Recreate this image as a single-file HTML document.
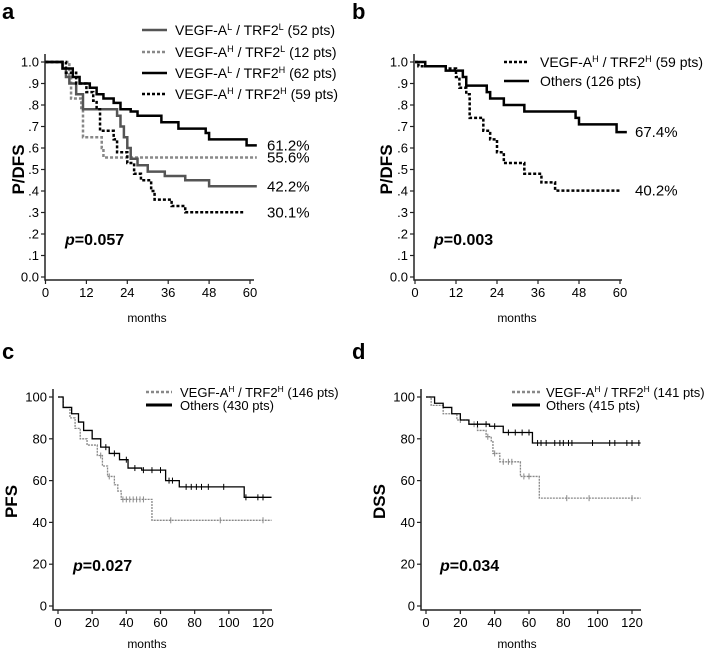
<!DOCTYPE html>
<html><head><meta charset="utf-8">
<style>
body{margin:0;background:#fff;}
svg{display:block;font-family:"Liberation Sans",Arial,sans-serif;}
</style></head>
<body>
<svg id="fig" width="709" height="651" viewBox="0 0 709 651"></svg>
<script>
// ---------- data ----------
const aLLm=[0,5,6,7,9,11,20,21,22,23,24,25,27,30,35,41,48,62];
const aLLs=[1,0.97,0.93,0.9,0.85,0.78,0.78,0.75,0.7,0.65,0.6,0.55,0.52,0.49,0.47,0.45,0.422,0.422];
const aHLm=[0,7,7.5,10.5,11,16.5,17,62];
const aHLs=[1,0.93,0.83,0.78,0.65,0.6,0.556,0.556];
const aLHm=[0,5,8,10,13,15,17,20,22,25,27,34,39,47,48,59,62];
const aLHs=[1,0.97,0.93,0.9,0.88,0.85,0.83,0.81,0.78,0.77,0.75,0.72,0.69,0.67,0.64,0.612,0.612];
const aHHm=[0,6,9,12,14,15,16,20,21,24,26,28,31,32,37,41,58];
const aHHs=[1,0.95,0.9,0.86,0.82,0.78,0.68,0.64,0.58,0.53,0.48,0.45,0.4,0.36,0.33,0.301,0.301];
const bHHm=[0,1,9,12,13,15,16,20,22,24,26,32,37,41,60];
const bHHs=[1,0.98,0.97,0.93,0.88,0.85,0.74,0.68,0.64,0.58,0.53,0.48,0.44,0.402,0.402];
const bOm=[0,3,9,14,15,21,22,26,32,47,48,59,62];
const bOs=[1,0.98,0.96,0.93,0.89,0.86,0.83,0.8,0.77,0.74,0.71,0.674,0.674];
const cHm=[0,3,7,10,13,17,23,26,29,33,35,37,55,125];
const cHs=[100,95,90,85,80,77,72,67,62,58,55,51,41,41];
const cOm=[0,3,8,12,15,20,25,30,36,41,49,63,71,109,125];
const cOs=[100,95,92,88,84,80,76,73,70,66,65,60,57,52,52];
const cHcens=[25,30,38,40,42,44,46,48,50,66,95,120];
const cOcens=[28,33,40,45,50,55,60,65,67,75,78,81,84,88,97,110,117,120];
const dHm=[0,3,10,18,25,30,35,38,39,43,55,66,125];
const dHs=[100,96,92,89,87,84,81,79,73,69,62,51.6,51.6];
const dOm=[0,5,10,15,20,25,37,45,62,125];
const dOs=[100,97,95,92,89,87,86,83,78,78];
const dHcens=[20,28,36,40,45,48,50,57,60,82,95,120];
const dOcens=[30,35,40,48,52,56,60,65,67,70,75,78,80,83,85,97,107,110,117,120,124];
const abYTicks=[0,0.1,0.2,0.3,0.4,0.5,0.6,0.7,0.8,0.9,1.0];
const abYLabels=["0.0",".1",".2",".3",".4",".5",".6",".7",".8",".9","1.0"];
const abXTicks=[0,12,24,36,48,60];
const cdYTicks=[0,20,40,60,80,100];
const cdXTicks=[0,20,40,60,80,100,120];

const NS="http://www.w3.org/2000/svg";
const svg=document.getElementById('fig');
function el(tag,attrs,parent,text){
  const e=document.createElementNS(NS,tag);
  for(const k in attrs)e.setAttribute(k,attrs[k]);
  if(text!==undefined)e.textContent=text;
  (parent||svg).appendChild(e);return e;
}
function panel(o){
  const g=el('g',{});
  
  
  const sx=m=>o.x0+(m-o.xmin)/(o.xmax-o.xmin)*(o.x1-o.x0);
  const sy=v=>o.y0+(v-o.ymin)/(o.ymax-o.ymin)*(o.y1-o.y0);
  o.sx=sx;o.sy=sy;o.g=g;
  const L=el('text',{x:o.lx,y:o.ly,'font-size':22,'font-weight':'bold'},g,o.id);
  
  
  const ax=el('path',{d:`M${o.axL} ${sy(o.ymax)-8}V${o.axB}H${o.axR}`,stroke:'#222','stroke-width':1.5,fill:'none'},g);
  
  
  o.yTicks.forEach((t,i)=>{
    el('line',{x1:o.axL-4,x2:o.axL,y1:sy(t),y2:sy(t),stroke:'#222','stroke-width':1.2},g);
    const tx=el('text',{x:o.axL-6,y:sy(t)+4.5,'font-size':13,'text-anchor':'end'},g,o.yLabels?o.yLabels[i]:String(t));
    
    
  });
  o.xTicks.forEach(t=>{
    el('line',{x1:sx(t),x2:sx(t),y1:o.axB,y2:o.axB+4,stroke:'#222','stroke-width':1.2},g);
    const tx=el('text',{x:sx(t),y:o.axB+17,'font-size':13,'text-anchor':'middle'},g,String(t));
    
    
  });
  const xt=el('text',{x:o.mx,y:o.my,'font-size':12,'text-anchor':'middle'},g,'months');
  
  
  const yc=(sy(o.ymax)+sy(o.ymin))/2;
  const yt=el('text',{x:0,y:0,'font-size':17,'font-weight':'bold','text-anchor':'middle',transform:`translate(${o.ytx},${yc}) rotate(-90)`},g,o.ytitle);
  
  
  const p=el('text',{x:o.px,y:o.py,'font-size':16,'font-weight':'bold'},g);
  
  
  el('tspan',{'font-style':'italic'},p,'p');
  el('tspan',{},p,'='+o.p);
  return o;
}
function curve(o,ms,ss,st,name,cens){
  let d=`M${o.sx(ms[0])} ${o.sy(ss[0])}`;
  for(let i=1;i<ms.length;i++){d+=`H${o.sx(ms[i])}V${o.sy(ss[i])}`;}
  const p=el('path',{d,fill:'none',stroke:st.c,'stroke-width':st.w,'stroke-dasharray':st.da||'none'},o.g);
  
  
  if(cens){cens.forEach(m=>{
    let v=ss[0];for(let i=0;i<ms.length;i++){if(ms[i]<=m)v=ss[i];}
    const c=el('line',{x1:o.sx(m),x2:o.sx(m),y1:o.sy(v)-3,y2:o.sy(v)+3,stroke:st.c,'stroke-width':1},o.g);
    
    
  });}
}
function legend(o,x1,x2,tx,y,st,parts,fs){
  fs=fs||14;
  const g=el('g',{},o.g);
  
  
  el('line',{x1,x2,y1:y-5,y2:y-5,stroke:st.c,'stroke-width':st.w,'stroke-dasharray':st.da||'none'},g);
  const t=el('text',{x:tx,y,'font-size':fs},g);
  parts.forEach(pp=>{
    if(pp[1])el('tspan',{'font-size':fs*0.65,dy:-5},t,pp[0]);
    else el('tspan',{dy:pp[2]||0},t,pp[0]);
  });
}
function endLabel(o,x,v,txt){
  const t=el('text',{x,y:o.sy(v)+5,'font-size':15},o.g,txt);
  
  
}
const vegf=(a,b,n)=>[['VEGF-A'],[a,1],[' / TRF2',0,5],[b,1],[' ('+n+' pts)',0,5]];

const GS={c:'#555',w:2.5}, GD={c:'#888',w:2.5,da:'3,2'}, KS={c:'#000',w:2.5}, KD={c:'#000',w:2.5,da:'3,2'};

const A=panel({id:'a',lx:2,ly:19,xmin:0,xmax:60,ymin:0,ymax:1,x0:45.5,x1:250,y0:277,y1:62,axL:45,axB:280,axR:254,
  yTicks:abYTicks,yLabels:abYLabels,xTicks:abXTicks,mx:147,my:322,ytx:24,ytitle:'P/DFS',px:65,py:245,p:'0.057'});
curve(A,aHLm,aHLs,GD,'curve-vegf-h-trf2-l');
curve(A,aLLm,aLLs,GS,'curve-vegf-l-trf2-l');
curve(A,aHHm,aHHs,KD,'curve-vegf-h-trf2-h');
curve(A,aLHm,aLHs,KS,'curve-vegf-l-trf2-h');
legend(A,142,167,175,35,GS,vegf('L','L',52));
legend(A,142,167,175,57,GD,vegf('H','L',12));
legend(A,142,167,175,78,KS,vegf('L','H',62));
legend(A,142,167,175,99,KD,vegf('H','H',59));
endLabel(A,267,0.612,'61.2%');endLabel(A,267,0.556,'55.6%');endLabel(A,267,0.422,'42.2%');endLabel(A,267,0.301,'30.1%');

const B=panel({id:'b',lx:352,ly:19,xmin:0,xmax:60,ymin:0,ymax:1,x0:415,x1:620,y0:277,y1:62,axL:414,axB:280,axR:622,
  yTicks:abYTicks,yLabels:abYLabels,xTicks:abXTicks,mx:517,my:322,ytx:392,ytitle:'P/DFS',px:434,py:245,p:'0.003'});
curve(B,bHHm,bHHs,KD,'curve-vegf-h-trf2-h');
curve(B,bOm,bOs,KS,'curve-others');
legend(B,504,529,540,67,KD,vegf('H','H',59));
legend(B,504,529,540,86,KS,[['Others (126 pts)']]);
endLabel(B,635,0.674,'67.4%');endLabel(B,635,0.402,'40.2%');

const TG={c:'#888',w:1.3,da:'2,1'}, TK={c:'#000',w:1.3};
const C=panel({id:'c',lx:2,ly:359,xmin:0,xmax:120,ymin:0,ymax:100,x0:58,x1:263,y0:606,y1:397,axL:53,axB:610,axR:272,
  yTicks:cdYTicks,xTicks:cdXTicks,mx:147,my:648,ytx:17,ytitle:'PFS',px:73,py:571,p:'0.027'});
curve(C,cHm,cHs,TG,'curve-vegf-h-trf2-h',cHcens);
curve(C,cOm,cOs,TK,'curve-others',cOcens);
legend(C,146,172,180,397,{c:'#888',w:2.5,da:'3,2'},vegf('H','H',146),13);
legend(C,146,172,180,410,{c:'#000',w:3},[['Others (430 pts)']],13);

const D=panel({id:'d',lx:352,ly:359,xmin:0,xmax:120,ymin:0,ymax:100,x0:426,x1:632,y0:606,y1:397,axL:421,axB:610,axR:641,
  yTicks:cdYTicks,xTicks:cdXTicks,mx:517,my:648,ytx:385,ytitle:'DSS',px:440,py:571,p:'0.034'});
curve(D,dHm,dHs,TG,'curve-vegf-h-trf2-h',dHcens);
curve(D,dOm,dOs,TK,'curve-others',dOcens);
legend(D,512,540,546,397,{c:'#888',w:2.5,da:'3,2'},vegf('H','H',141),13);
legend(D,512,540,546,410,{c:'#000',w:3},[['Others (415 pts)']],13);
</script>
</body></html>
